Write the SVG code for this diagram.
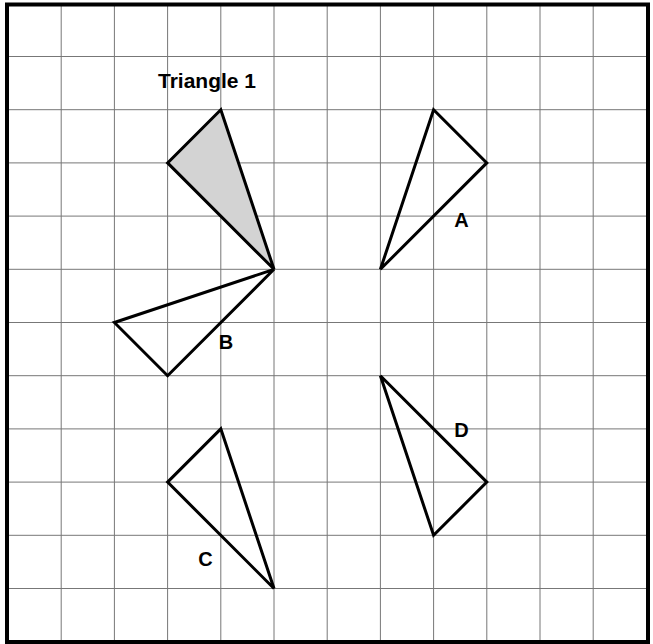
<svg xmlns="http://www.w3.org/2000/svg" width="653" height="644" viewBox="0 0 653 644">
<style>
.grid line{stroke:#777;stroke-width:1}
.tri{fill:none;stroke:#000;stroke-width:3;stroke-linejoin:miter}
.lbl{font-family:"Liberation Sans",Arial,sans-serif;font-weight:bold;font-size:20px;fill:#000}
</style>
<rect width="653" height="644" fill="#fff"/>
<g class="grid">
<line x1="61.2" y1="4" x2="61.2" y2="642"/>
<line x1="114.4" y1="4" x2="114.4" y2="642"/>
<line x1="167.6" y1="4" x2="167.6" y2="642"/>
<line x1="220.8" y1="4" x2="220.8" y2="642"/>
<line x1="274" y1="4" x2="274" y2="642"/>
<line x1="327.2" y1="4" x2="327.2" y2="642"/>
<line x1="380.4" y1="4" x2="380.4" y2="642"/>
<line x1="433.6" y1="4" x2="433.6" y2="642"/>
<line x1="486.8" y1="4" x2="486.8" y2="642"/>
<line x1="540" y1="4" x2="540" y2="642"/>
<line x1="593.2" y1="4" x2="593.2" y2="642"/>
<line x1="7" y1="56.5" x2="648" y2="56.5"/>
<line x1="7" y1="109.7" x2="648" y2="109.7"/>
<line x1="7" y1="162.9" x2="648" y2="162.9"/>
<line x1="7" y1="216.1" x2="648" y2="216.1"/>
<line x1="7" y1="269.3" x2="648" y2="269.3"/>
<line x1="7" y1="322.5" x2="648" y2="322.5"/>
<line x1="7" y1="375.7" x2="648" y2="375.7"/>
<line x1="7" y1="428.9" x2="648" y2="428.9"/>
<line x1="7" y1="482.1" x2="648" y2="482.1"/>
<line x1="7" y1="535.3" x2="648" y2="535.3"/>
<line x1="7" y1="588.5" x2="648" y2="588.5"/>
</g>
<rect x="7" y="4.5" width="641" height="637.5" fill="none" stroke="#000" stroke-width="4"/>
<g id="triangle1">
<polygon class="tri" points="220.8,109.7 167.6,162.9 274,269.3" style="fill:#d3d3d3"/>
<text class="lbl" x="158" y="88" style="font-size:21px">Triangle 1</text>
</g>
<g id="triangleA">
<polygon class="tri" points="433.6,109.7 486.8,162.9 380.4,269.3"/>
<text class="lbl" x="461.5" y="227" text-anchor="middle">A</text>
</g>
<g id="triangleB">
<polygon class="tri" points="274,269.3 114.4,322.5 167.6,375.7"/>
<text class="lbl" x="226" y="349" text-anchor="middle">B</text>
</g>
<g id="triangleC">
<polygon class="tri" points="220.8,428.9 167.6,482.1 274,588.5"/>
<text class="lbl" x="205.5" y="566" text-anchor="middle">C</text>
</g>
<g id="triangleD">
<polygon class="tri" points="380.4,375.7 486.8,482.1 433.6,535.3"/>
<text class="lbl" x="461.5" y="437" text-anchor="middle">D</text>
</g>
<g id="connectors"></g>
</svg>
